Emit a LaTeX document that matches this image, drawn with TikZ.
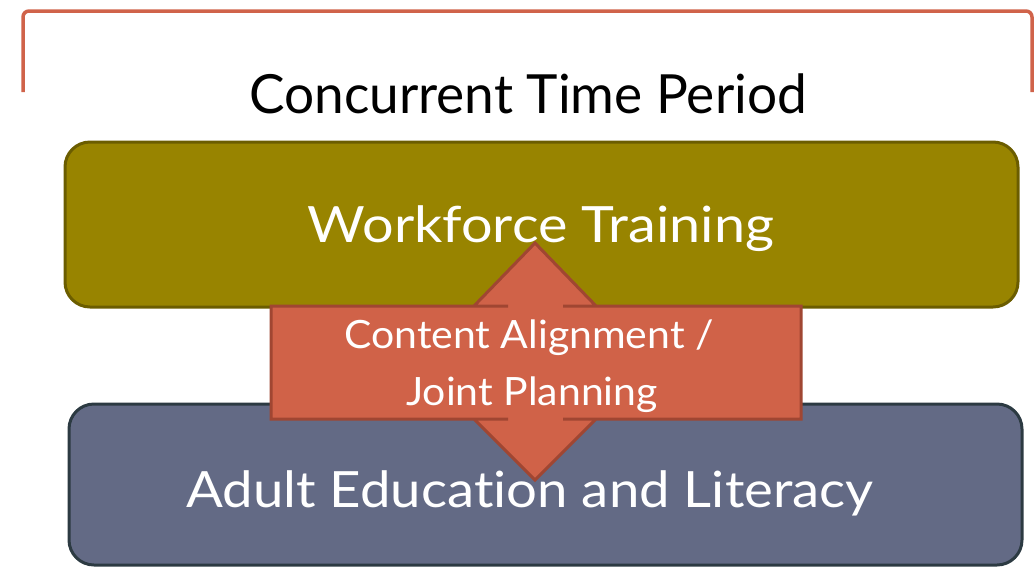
\documentclass[tikz,border=0pt]{standalone}
\usepackage{fontspec}
\setmainfont{Lato}[Ligatures={NoCommon,NoRequired,NoContextual,NoRare}]
\definecolor{bracketred}{RGB}{208,99,74}
\definecolor{olivefill}{RGB}{152,132,0}
\definecolor{olivedraw}{RGB}{107,93,0}
\definecolor{slatefill}{RGB}{99,106,133}
\definecolor{slatedraw}{RGB}{44,58,66}
\definecolor{arrowfill}{RGB}{208,98,72}
\definecolor{arrowdraw}{RGB}{160,70,50}
\tikzset{
  panel/.style={draw, line width=3pt, rounded corners=25pt, inner sep=0pt},
  bigtext/.style={text=white, anchor=base, inner sep=0pt, font=\fontsize{50}{60}\selectfont},
  arrowtext/.style={text=white, anchor=base, inner sep=0pt, font=\fontsize{39}{47}\selectfont},
}
\begin{document}
\begin{tikzpicture}[x=1pt,y=-1pt]
\useasboundingbox (0,0) rectangle (1036,566);
% bracket
\draw[bracketred, line width=3.5pt, rounded corners=6pt] (23,92) -- (23,11) -- (1032,11) -- (1032,92);
\node[anchor=base, inner sep=0pt, font=\fontsize{54}{64}\selectfont] (title) at (528,113) {\scalebox{0.985}[1]{Concurrent Time Period}};
% panels
\path[panel, fill=olivefill, draw=olivedraw] (65,142) rectangle (1018,307);
\node[panel, draw=none, minimum width=953pt, minimum height=165pt] (wt) at (541.5,224.5) {};
\path[panel, fill=slatefill, draw=slatedraw] (69,404) rectangle (1022,565);
\node[panel, draw=none, minimum width=953pt, minimum height=161pt] (ae) at (545.5,484.5) {};
\node[bigtext] (wttext) at (541,242) {\scalebox{1.115}[1]{Workforce Training}};
\node[bigtext] (aetext) at (530,507) {\scalebox{1.09}[1]{Adult Education and Literacy}};
% up-down arrow callout
\draw[fill=arrowfill, draw=arrowdraw, line width=3pt, line join=miter]
  (271,306) -- (508,306) -- (474,306) -- (535,243) -- (596,306) -- (563,306)
  -- (801,306) -- (801,419) -- (563,419) -- (596,419) -- (535,480) -- (474,419)
  -- (508,419) -- (271,419) -- cycle;
\node[arrowtext] (al1) at (529,348) {\scalebox{1.05}[1]{Content Alignment /}};
\node[arrowtext] (al2) at (532,405) {\scalebox{1.05}[1]{Joint Planning}};
\end{tikzpicture}
\end{document}
